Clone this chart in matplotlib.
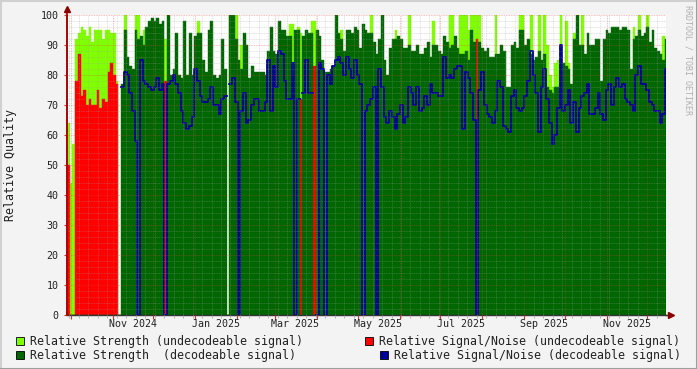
import numpy as np
import matplotlib.pyplot as plt
import matplotlib.dates as mdates
from matplotlib.patches import Rectangle
from matplotlib.lines import Line2D
from datetime import datetime

# two-day samples, starting 2024-09-28
strength_undec = [
    64, 44, 57, 92, 94, 96, 95, 93, 96, 91,
    95, 95, 95, 92, 95, 95, 94, 94, 78, 0,
    0, 100, 0, 0, 0, 100, 100, 0, 95, 0,
    0, 0, 0, 0, 0, 0, 92, 0, 0, 0,
    0, 0, 0, 0, 0, 0, 0, 0, 98, 0,
    0, 0, 0, 0, 0, 0, 0, 0, 0, 0,
    100, 0, 100, 0, 90, 0, 0, 0, 0, 0,
    0, 0, 0, 0, 0, 0, 0, 0, 0, 0,
    0, 0, 97, 97, 0, 96, 94, 0, 0, 0,
    98, 98, 0, 0, 0, 0, 0, 0, 0, 0,
    0, 95, 0, 0, 0, 0, 0, 0, 0, 0,
    0, 0, 100, 0, 0, 0, 0, 0, 0, 0,
    0, 95, 0, 0, 0, 0, 100, 0, 0, 0,
    0, 0, 0, 0, 0, 98, 0, 0, 0, 0,
    0, 100, 100, 0, 0, 100, 100, 100, 95, 100,
    100, 100, 100, 0, 0, 0, 0, 0, 100, 0,
    0, 0, 0, 0, 0, 0, 0, 100, 100, 0,
    0, 100, 0, 0, 100, 0, 100, 90, 80, 76,
    84, 85, 100, 0, 98, 84, 0, 94, 0, 0,
    100, 0, 0, 0, 0, 0, 0, 0, 0, 0,
    0, 0, 0, 0, 0, 0, 0, 0, 0, 96,
    0, 100, 0, 0, 100, 0, 0, 0, 0, 0,
    93, 0,
]

snr_undec = [
    50, 0, 0, 78, 87, 73, 75, 70, 72, 70,
    70, 75, 69, 72, 71, 81, 84, 80, 77, 0,
] + [0] * 16 + [78] + [0] * 49 + [72] + [0] * 4 + [83] + [0] * 59 + [92] + [0] * 70

strength_dec = [
    0, 0, 0, 0, 0, 0, 0, 0, 0, 0,
    0, 0, 0, 0, 0, 0, 0, 0, 0, 0,
    77, 95, 86, 83, 82, 95, 92, 93, 90, 96,
    98, 99, 98, 99, 97, 98, 0, 100, 80, 82,
    94, 80, 79, 98, 80, 94, 80, 93, 94, 94,
    85, 81, 95, 98, 80, 79, 80, 92, 82, 0,
    100, 100, 92, 85, 82, 94, 90, 79, 83, 81,
    81, 81, 81, 80, 88, 96, 88, 87, 98, 95,
    95, 93, 93, 80, 95, 95, 0, 93, 95, 94,
    94, 0, 95, 93, 85, 81, 81, 82, 83, 100,
    94, 92, 88, 95, 95, 94, 96, 95, 89, 97,
    95, 94, 94, 91, 87, 92, 100, 85, 80, 89,
    92, 92, 93, 92, 89, 89, 90, 88, 88, 90,
    87, 87, 89, 91, 86, 90, 90, 88, 87, 93,
    91, 89, 90, 93, 89, 87, 87, 88, 85, 95,
    91, 0, 91, 89, 88, 89, 86, 86, 87, 87,
    90, 88, 76, 76, 90, 91, 89, 95, 95, 90,
    92, 87, 85, 86, 88, 85, 87, 76, 75, 74,
    76, 76, 89, 84, 83, 82, 77, 92, 100, 90,
    90, 87, 94, 90, 90, 92, 92, 78, 92, 95,
    94, 96, 96, 96, 95, 96, 96, 95, 82, 92,
    93, 95, 93, 94, 96, 91, 95, 89, 88, 87,
    85, 92,
]

nan = np.nan
snr_dec = [nan] * 20 + [
    76, 81, 80, 74, 68, 58, 0, 85, 78, 77,
    76, 75, 76, 79, 75, 77, 0, 77, 78, 80,
    77, 74, 68, 64, 62, 63, 66, 82, 78, 73,
    71, 71, 72, 76, 70, 70, 67, 72, 73, nan,
    77, 79, 71, 0, 68, 74, 64, 65, 70, 72,
    72, 68, 68, 71, 85, 68, 83, 76, 88, 87,
    78, 72, 72, 84, 0, 72, nan, 74, 85, 74,
    74, nan, 0, 84, 82, 0, 80, 77, 83, 85,
    86, 84, 80, 86, 82, 79, 85, 80, 77, 0,
    68, 70, 72, 76, 0, 82, 76, 66, 64, 68,
    66, 62, 67, 70, 64, 66, 76, 74, 70, 76,
    68, 69, 73, 70, 77, 74, 74, 73, 73, 86,
    79, 80, 79, 82, 83, 83, 62, 81, 79, 74,
    65, 0, 75, 81, 70, 67, 66, 64, 68, 78,
    76, 63, 62, 61, 73, 75, 69, 68, 69, 73,
    78, 88, 80, 74, 61, 76, 82, 72, 64, 57,
    60, 69, 90, 68, 70, 75, 64, 71, 61, 69,
    73, 74, 77, 67, 67, 69, 74, 67, 65, 75,
    77, 70, 76, 79, 76, 77, 72, 71, 70, 68,
    80, 83, 77, 77, 75, 71, 70, 68, 68, 64,
    67, 82,
]

W, H = 697, 369
light_green = '#80ff00'
dark_green = '#006600'
red = '#ff0000'
blue = '#00009c'
mono = 'DejaVu Sans Mono'


def fx(px):
    return px / W


def fy(py):
    return 1 - py / H


fig = plt.figure(figsize=(W / 100, H / 100), dpi=100)
fig.patch.set_facecolor('#f3f3f3')
ax = fig.add_axes([fx(67), fy(315), (666 - 67) / W, 300 / H])
ax.set_facecolor('white')

start = mdates.date2num(datetime(2024, 9, 28, 5, 30))
step = 2.0
left = start + step * np.arange(len(strength_dec))

ax.bar(left, strength_undec, width=step, align='edge', color=light_green,
       edgecolor=light_green, linewidth=0.3, zorder=1)
ax.bar(left, snr_undec, width=step, align='edge', color=red,
       edgecolor=red, linewidth=0.3, zorder=1.1)
ax.bar(left, strength_dec, width=step, align='edge', color=dark_green,
       edgecolor=dark_green, linewidth=0.3, zorder=1.2)
xs = np.append(left, left[-1] + step)
ys = np.append(snr_dec, snr_dec[-1])
ax.step(xs, ys, where='post', color=blue, lw=1.3, zorder=2)

ax.set_xlim(start, start + 599 / 1.3534)
ax.set_ylim(0, 100)

# grid drawn over the data, rrdtool style
ax.set_axisbelow(False)
ax.xaxis.set_major_locator(mdates.MonthLocator())
ax.xaxis.set_minor_locator(mdates.WeekdayLocator(byweekday=mdates.MO))
ax.xaxis.set_major_formatter(plt.NullFormatter())
ax.set_yticks(range(0, 101, 10))
ax.set_yticks(range(0, 101, 2), minor=True)
ax.grid(which='minor', color='#a0a0a0', alpha=0.4, lw=0.6, ls=(0, (1, 1)))
ax.grid(which='major', color='#e04040', alpha=0.45, lw=0.6, ls=(0, (1, 1)))
ax.tick_params(axis='x', which='major', length=3, color='#cc3333', width=0.8)
ax.tick_params(axis='x', which='minor', length=2, color='#aaaaaa', width=0.6)
ax.tick_params(axis='y', which='major', length=2, color='#cc3333', width=0.8,
               labelsize=7.2, pad=4)
ax.tick_params(axis='y', which='minor', length=0)
for t in ax.get_yticklabels():
    t.set_fontfamily(mono)
    t.set_color('#222222')

for m in [(2024, 11), (2025, 1), (2025, 3), (2025, 5), (2025, 7), (2025, 9), (2025, 11)]:
    d = datetime(m[0], m[1], 16)
    ax.annotate(d.strftime('%b %Y'), xy=(mdates.date2num(d), 0),
                xycoords=('data', 'axes fraction'), xytext=(0, -3),
                textcoords='offset points', ha='center', va='top',
                fontsize=7.2, family=mono, color='#222222')

ax.spines['top'].set_visible(False)
ax.spines['right'].set_visible(False)
ax.spines['left'].set_color('#b00000')
ax.spines['left'].set_linewidth(1.2)
ax.spines['bottom'].set_color('#333333')
ax.spines['bottom'].set_linewidth(1.0)

# axis arrows
fig.add_artist(Line2D([fx(67), fx(67)], [fy(315), fy(9)], color='#b00000', lw=1.2))
fig.add_artist(Line2D([fx(666), fx(670)], [fy(315), fy(315)], color='#333333', lw=1.0))
fig.add_artist(Line2D([fx(67)], [fy(9)], marker='^', color='#8b0000', ms=4.5, lw=0))
fig.add_artist(Line2D([fx(671)], [fy(315)], marker='>', color='#8b0000', ms=4.5, lw=0))

fig.text(fx(11), fy(165), 'Relative Quality', rotation=90, ha='center', va='center',
         fontsize=8.4, family=mono, color='#222222')
fig.text(fx(688), fy(5), 'RRDTOOL / TOBI OETIKER', rotation=270, ha='center', va='top',
         fontsize=6, family=mono, color='#b0b0b0')

# legend
legend = [
    (16, 341, light_green, 'Relative Strength (undecodeable signal)'),
    (365, 341, red, 'Relative Signal/Noise (undecodeable signal)'),
    (16, 355, dark_green, 'Relative Strength  (decodeable signal)'),
    (380, 355, blue, 'Relative Signal/Noise (decodeable signal)'),
]
for x0, y0, c, label in legend:
    fig.add_artist(Rectangle((fx(x0), fy(y0 + 4)), 8 / W, 8 / H, facecolor=c,
                             edgecolor='black', lw=0.6, transform=fig.transFigure))
    fig.text(fx(x0 + 14), fy(y0), label, ha='left', va='center', fontsize=8.4,
             family=mono, color='#222222')

# shaded frame
fig.add_artist(Line2D([0, 1], [fy(0.5), fy(0.5)], color='#d0d0d0', lw=1.5))
fig.add_artist(Line2D([fx(0.5), fx(0.5)], [0, 1], color='#d0d0d0', lw=1.5))
fig.add_artist(Line2D([0, 1], [fy(368.5), fy(368.5)], color='#9e9e9e', lw=1.5))
fig.add_artist(Line2D([fx(696.5), fx(696.5)], [0, 1], color='#9e9e9e', lw=1.5))

fig.savefig('out.png', dpi=100, facecolor=fig.get_facecolor())
